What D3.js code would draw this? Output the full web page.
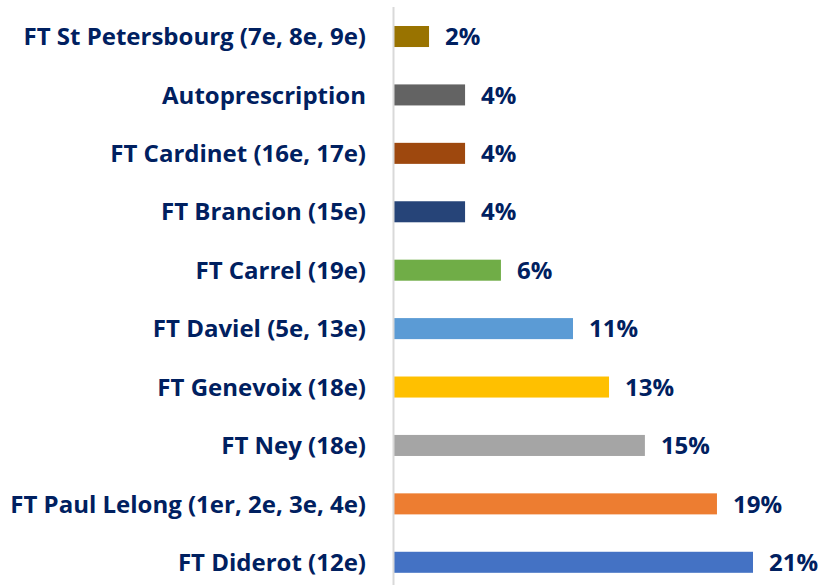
<!DOCTYPE html>
<html>
<head>
<meta charset="utf-8">
<script src="https://cdn.jsdelivr.net/npm/d3@7"></script>
<style>
  body { margin: 0; background: #fff; }
  text { font-family: "Open Sans", Lato, sans-serif; font-weight: bold; }
</style>
</head>
<body>
<svg id="chart" width="833" height="585"></svg>
<script>
// categories top to bottom
const sites = [
  "FT St Petersbourg (7e, 8e, 9e)",
  "Autoprescription",
  "FT Cardinet (16e, 17e)",
  "FT Brancion (15e)",
  "FT Carrel (19e)",
  "FT Daviel (5e, 13e)",
  "FT Genevoix (18e)",
  "FT Ney (18e)",
  "FT Paul Lelong (1er, 2e, 3e, 4e)",
  "FT Diderot (12e)"
];
// share in %
const shares = [2.13, 4.26, 4.26, 4.26, 6.38, 10.64, 12.77, 14.89, 19.15, 21.28];
const barColors = [
  "#997300", "#636363", "#9e480e", "#264478", "#70ad47",
  "#5b9bd5", "#ffc000", "#a5a5a5", "#ed7d31", "#4472c4"
];

const data = sites.map((s, i) => ({ site: s, share: shares[i], color: barColors[i] }));

const svg = d3.select("#chart");
const x0 = 393;
const textColor = "#002060";
const fontSize = 24;

const x = d3.scaleLinear().domain([0, 21.28]).range([x0, 753]);
const y = d3.scaleBand()
  .domain(sites)
  .range([7.3, 591.5])
  .paddingInner(0.64)
  .paddingOuter(0.32);

// bars
svg.selectAll("rect.bar")
  .data(data)
  .enter()
  .append("rect")
  .attr("class", "bar")
  .attr("x", x(0))
  .attr("y", d => y(d.site))
  .attr("width", d => x(d.share) - x(0))
  .attr("height", y.bandwidth())
  .attr("fill", d => d.color);

// vertical axis line + category labels
const yAxis = d3.axisLeft(y).tickSize(0).tickPadding(27);
const yAxisG = svg.append("g")
  .attr("transform", `translate(${x0},0)`)
  .call(yAxis);
yAxisG.select(".domain")
  .attr("d", `M0.5,7V585`)
  .attr("stroke", "#d9d9d9")
  .attr("stroke-width", 2);
yAxisG.selectAll(".tick text")
  .attr("fill", textColor)
  .attr("font-size", fontSize)
  .attr("font-family", "'Open Sans', sans-serif")
  .attr("dy", "0.36em");

// value labels
svg.selectAll("text.val")
  .data(data)
  .enter()
  .append("text")
  .attr("class", "val")
  .attr("x", d => x(d.share) + 16)
  .attr("y", d => y(d.site) + y.bandwidth() / 2)
  .attr("dy", "0.36em")
  .attr("fill", textColor)
  .attr("font-size", fontSize)
  .text(d => Math.round(d.share) + "%");
</script>
</body>
</html>
